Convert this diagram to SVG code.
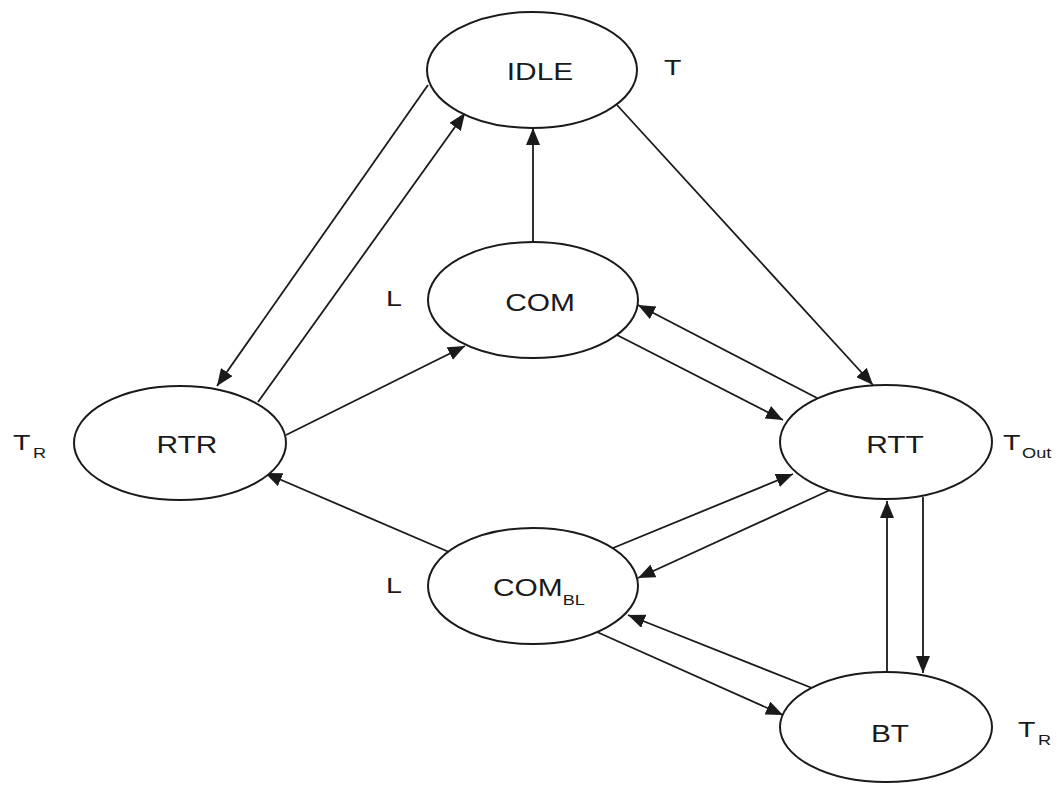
<svg xmlns="http://www.w3.org/2000/svg" width="1059" height="785" viewBox="0 0 1059 785">
<defs>
<marker id="arr" markerUnits="userSpaceOnUse" markerWidth="18" markerHeight="14" viewBox="0 0 18 14" refX="17" refY="7" orient="auto">
<path d="M0,0 L17,7 L0,14 Z" fill="#1a1a1a"/>
</marker>
<style>
.node ellipse{fill:#fff;stroke:#1a1a1a;stroke-width:2}
.lbl{font-family:"Liberation Sans",Arial,sans-serif;font-size:23px;fill:#1a1a1a}
.side{font-family:"Liberation Sans",Arial,sans-serif;font-size:22px;fill:#1a1a1a}
.sub{font-family:"Liberation Sans",Arial,sans-serif;font-size:14px;fill:#1a1a1a}
.edges line{stroke:#1a1a1a;stroke-width:1.8;fill:none;marker-end:url(#arr)}
</style>
</defs>
<rect width="1059" height="785" fill="#fff"/>
<g class="edges" id="connectors">
<line x1="428" y1="85" x2="217" y2="386"/>
<line x1="258" y1="402" x2="465" y2="113"/>
<line x1="533" y1="242" x2="533" y2="128"/>
<line x1="617" y1="105" x2="873" y2="385"/>
<line x1="286" y1="435" x2="465" y2="346"/>
<line x1="817" y1="398" x2="638" y2="305"/>
<line x1="617" y1="335" x2="783" y2="420"/>
<line x1="463" y1="558" x2="265" y2="473"/>
<line x1="613" y1="548" x2="793" y2="474"/>
<line x1="830" y1="490" x2="638" y2="578"/>
<line x1="812" y1="688" x2="628" y2="615"/>
<line x1="597" y1="632" x2="783" y2="715"/>
<line x1="887" y1="672" x2="887" y2="501"/>
<line x1="923" y1="497" x2="923" y2="673"/>
</g>
<g class="node" id="IDLE">
<ellipse cx="532" cy="70" rx="105" ry="58"/>
<text class="lbl" transform="translate(540,80) scale(1.3,1)" text-anchor="middle">IDLE</text>
<text class="side" transform="translate(664,75) scale(1.3,1)">T</text>
</g>
<g class="node" id="COM">
<ellipse cx="533" cy="300" rx="105" ry="58"/>
<text class="lbl" transform="translate(540,311) scale(1.3,1)" text-anchor="middle">COM</text>
<text class="side" transform="translate(386,306) scale(1.3,1)">L</text>
</g>
<g class="node" id="RTR">
<ellipse cx="180" cy="443" rx="106" ry="57"/>
<text class="lbl" transform="translate(187,453) scale(1.3,1)" text-anchor="middle">RTR</text>
<text class="side" transform="translate(13,450) scale(1.3,1)">T</text>
<text class="sub" transform="translate(33,458) scale(1.3,1)">R</text>
</g>
<g class="node" id="RTT">
<ellipse cx="886" cy="442" rx="106" ry="57"/>
<text class="lbl" transform="translate(895,453) scale(1.3,1)" text-anchor="middle">RTT</text>
<text class="side" transform="translate(1003,450) scale(1.3,1)">T</text>
<text class="sub" transform="translate(1022,458) scale(1.3,1)">Out</text>
</g>
<g class="node" id="COM_BL">
<ellipse cx="533" cy="586" rx="105" ry="58"/>
<text class="lbl" transform="translate(493,596) scale(1.3,1)">COM<tspan class="sub" dy="9">BL</tspan></text>
<text class="side" transform="translate(386,593) scale(1.3,1)">L</text>
</g>
<g class="node" id="BT">
<ellipse cx="886" cy="727" rx="106" ry="55"/>
<text class="lbl" transform="translate(890,742) scale(1.3,1)" text-anchor="middle">BT</text>
<text class="side" transform="translate(1018,737) scale(1.3,1)">T</text>
<text class="sub" transform="translate(1038,745) scale(1.3,1)">R</text>
</g>
</svg>
